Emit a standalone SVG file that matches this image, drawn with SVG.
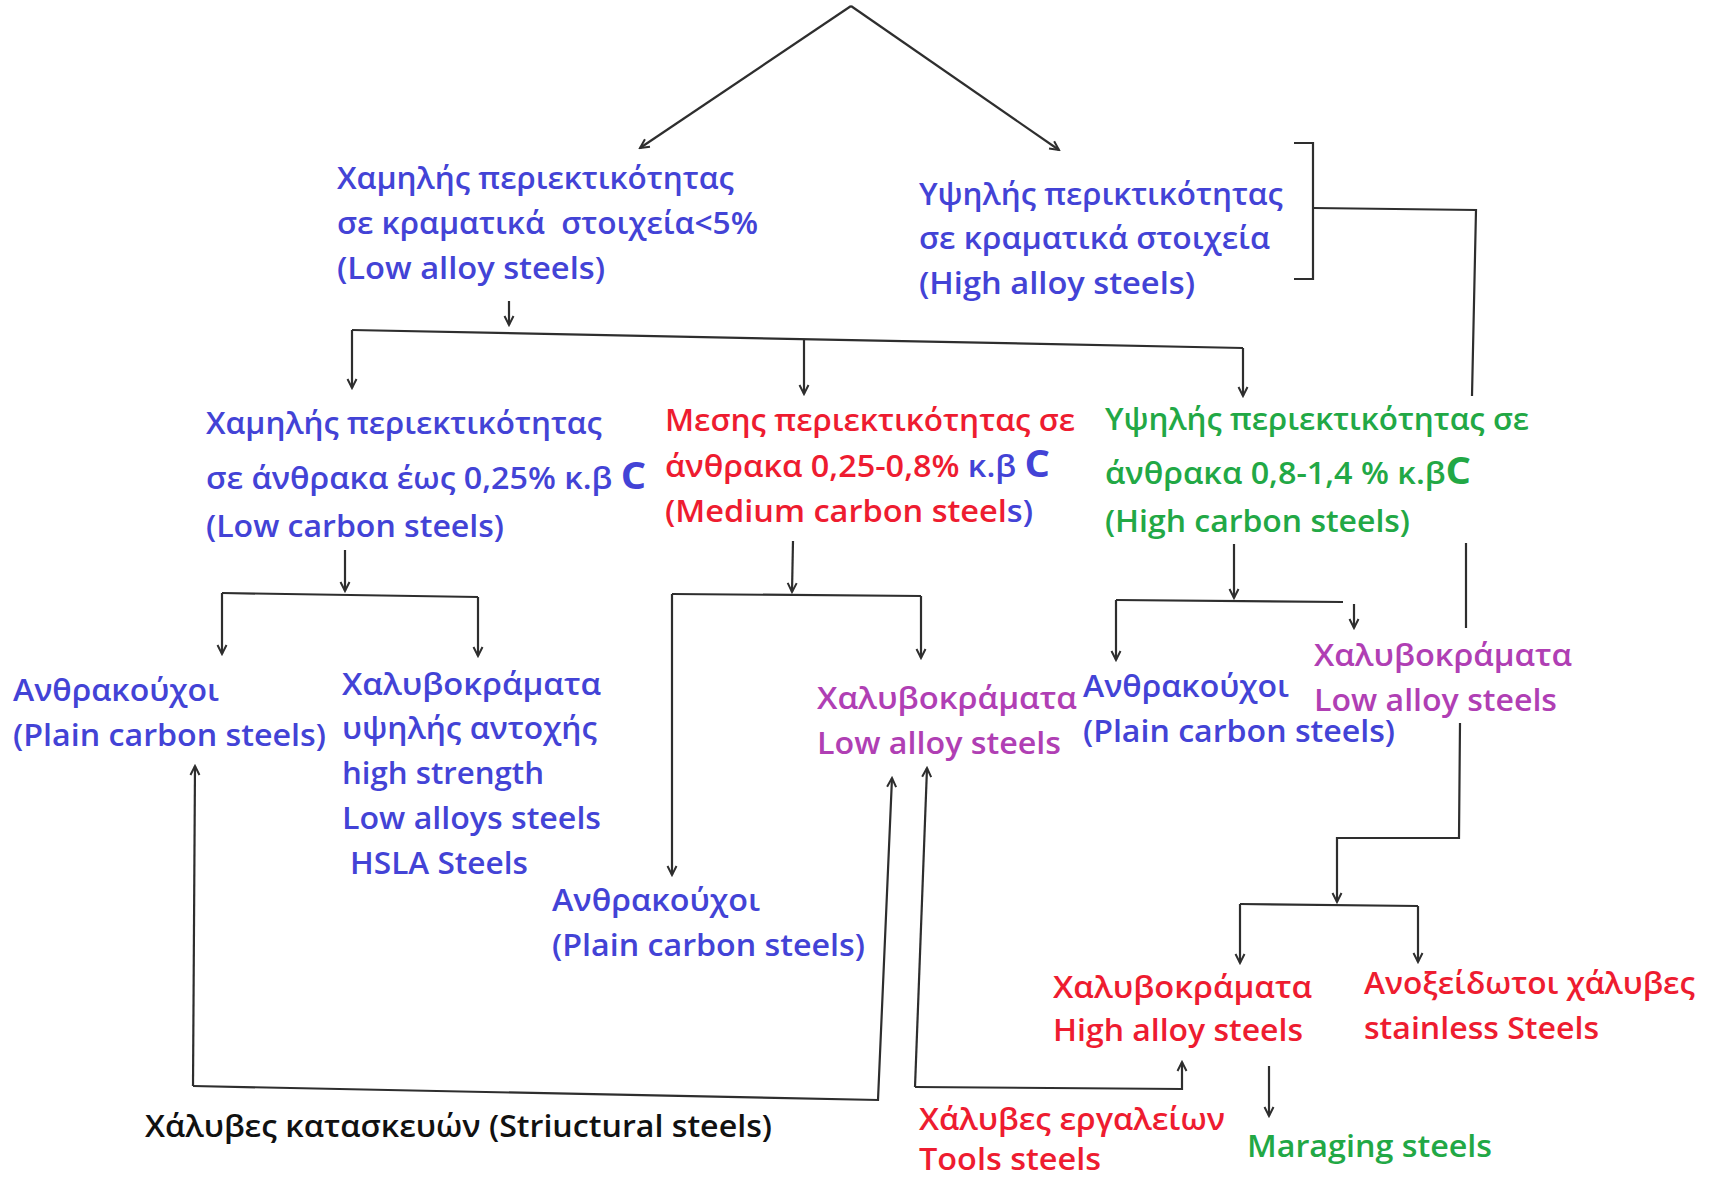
<svg xmlns="http://www.w3.org/2000/svg" width="1715" height="1178" viewBox="0 0 1715 1178">
<style>
.t{font-family:"Open Sans","Noto Sans","DejaVu Sans",sans-serif;font-size:30px;font-weight:600}
.b{fill:#4343d6}
.r{fill:#ee1c30}
.g{fill:#22a845}
.m{fill:#b03fb4}
.k{fill:#111}
.bigC{font-size:37px;font-weight:700}
.ln{fill:none;stroke:#2e2e2e;stroke-width:2.2;stroke-linejoin:miter}
.ar{marker-end:url(#ah)}
</style>
<defs>
<marker id="ah" viewBox="-11 -6 13 12" refX="0" refY="0" markerWidth="13" markerHeight="12" markerUnits="userSpaceOnUse" orient="auto">
<path d="M-9,-4.5 L0,0 L-9,4.5" fill="none" stroke="#2e2e2e" stroke-width="2"/>
</marker>
</defs>
<rect width="1715" height="1178" fill="#fff"/>

<g id="connectors">
<path class="ln ar" d="M851,6 L640,148"/>
<path class="ln ar" d="M851,6 L1059,150"/>
<path class="ln" d="M1294,143 L1313,143 L1313,279 L1294,279"/>
<path class="ln" d="M1313,208 L1476,210 L1472,396"/>
<path class="ln" d="M1466,543 L1466,628"/>
<path class="ln ar" d="M1460,723 L1459,838 L1337,838 L1337,902"/>
<path class="ln" d="M1240,904 L1418,906"/>
<path class="ln ar" d="M1240,904 L1240,963"/>
<path class="ln ar" d="M1418,906 L1418,962"/>
<path class="ln ar" d="M1269,1066 L1269,1116"/>
<path class="ln ar" d="M915,1087 L927,768"/>
<path class="ln ar" d="M915,1087 L1182,1089 L1182,1062"/>
<path class="ln ar" d="M193,1086 L195,766"/>
<path class="ln ar" d="M193,1086 L878,1100 L892,778"/>
<path class="ln ar" d="M509,301 L509,325"/>
<path class="ln" d="M352,330 L1243,348"/>
<path class="ln ar" d="M352,330 L352,388"/>
<path class="ln ar" d="M804,340 L804,394"/>
<path class="ln ar" d="M1243,348 L1243,396"/>
<path class="ln ar" d="M345,550 L345,591"/>
<path class="ln" d="M222,593 L478,597"/>
<path class="ln ar" d="M222,593 L222,654"/>
<path class="ln ar" d="M478,597 L478,656"/>
<path class="ln ar" d="M793,541 L792,592"/>
<path class="ln" d="M672,594 L921,596"/>
<path class="ln ar" d="M672,594 L672,875"/>
<path class="ln ar" d="M921,596 L921,658"/>
<path class="ln ar" d="M1234,544 L1234,598"/>
<path class="ln" d="M1116,600 L1343,602"/>
<path class="ln ar" d="M1116,600 L1116,660"/>
<path class="ln ar" d="M1354,604 L1354,628"/>
</g>

<g id="low-alloy" class="t b">
<text x="337" y="189" textLength="397" lengthAdjust="spacingAndGlyphs">Χαμηλής περιεκτικότητας</text>
<text x="337" y="234" textLength="421" lengthAdjust="spacingAndGlyphs" xml:space="preserve">σε κραματικά  στοιχεία&lt;5%</text>
<text x="337" y="279" textLength="268" lengthAdjust="spacingAndGlyphs">(Low alloy steels)</text>
</g>

<g id="high-alloy" class="t b">
<text x="919" y="205" textLength="364" lengthAdjust="spacingAndGlyphs">Υψηλής περικτικότητας</text>
<text x="919" y="249" textLength="351" lengthAdjust="spacingAndGlyphs">σε κραματικά στοιχεία</text>
<text x="919" y="294" textLength="276" lengthAdjust="spacingAndGlyphs">(High alloy steels)</text>
</g>

<g id="low-carbon" class="t b">
<text x="206" y="434" textLength="396" lengthAdjust="spacingAndGlyphs">Χαμηλής περιεκτικότητας</text>
<text x="206" y="489" textLength="440" lengthAdjust="spacingAndGlyphs">σε άνθρακα έως 0,25% κ.β <tspan class="bigC">C</tspan></text>
<text x="206" y="537" textLength="298" lengthAdjust="spacingAndGlyphs">(Low carbon steels)</text>
</g>

<g id="medium-carbon" class="t r">
<text x="665" y="431" textLength="410" lengthAdjust="spacingAndGlyphs">Μεσης περιεκτικότητας σε</text>
<text x="665" y="477" textLength="385" lengthAdjust="spacingAndGlyphs">άνθρακα 0,25-0,8% <tspan class="b">κ.β </tspan><tspan class="b bigC">C</tspan></text>
<text x="665" y="522" textLength="368" lengthAdjust="spacingAndGlyphs">(Medium carbon steel<tspan class="b">s)</tspan></text>
</g>

<g id="high-carbon" class="t g">
<text x="1105" y="430" textLength="424" lengthAdjust="spacingAndGlyphs">Υψηλής περιεκτικότητας σε</text>
<text x="1105" y="484" textLength="366" lengthAdjust="spacingAndGlyphs">άνθρακα 0,8-1,4 % κ.β<tspan class="bigC">C</tspan></text>
<text x="1105" y="532" textLength="305" lengthAdjust="spacingAndGlyphs">(High carbon steels)</text>
</g>

<g id="plain-carbon-low" class="t b">
<text x="13" y="701" textLength="206" lengthAdjust="spacingAndGlyphs">Ανθρακούχοι</text>
<text x="13" y="746" textLength="313" lengthAdjust="spacingAndGlyphs">(Plain carbon steels)</text>
</g>

<g id="hsla" class="t b">
<text x="342" y="695" textLength="259" lengthAdjust="spacingAndGlyphs">Χαλυβοκράματα</text>
<text x="342" y="739" textLength="255" lengthAdjust="spacingAndGlyphs">υψηλής αντοχής</text>
<text x="342" y="784" textLength="202" lengthAdjust="spacingAndGlyphs">high strength</text>
<text x="342" y="829" textLength="259" lengthAdjust="spacingAndGlyphs">Low alloys steels</text>
<text x="350" y="874" textLength="178" lengthAdjust="spacingAndGlyphs">HSLA Steels</text>
</g>

<g id="plain-carbon-medium" class="t b">
<text x="552" y="911" textLength="208" lengthAdjust="spacingAndGlyphs">Ανθρακούχοι</text>
<text x="552" y="956" textLength="313" lengthAdjust="spacingAndGlyphs">(Plain carbon steels)</text>
</g>

<g id="low-alloy-medium" class="t m">
<text x="817" y="709" textLength="260" lengthAdjust="spacingAndGlyphs">Χαλυβοκράματα</text>
<text x="817" y="754" textLength="244" lengthAdjust="spacingAndGlyphs">Low alloy steels</text>
</g>

<g id="plain-carbon-high" class="t b">
<text x="1083" y="697" textLength="206" lengthAdjust="spacingAndGlyphs">Ανθρακούχοι</text>
<text x="1083" y="742" textLength="312" lengthAdjust="spacingAndGlyphs">(Plain carbon steels)</text>
</g>

<g id="low-alloy-high" class="t m">
<text x="1314" y="666" textLength="258" lengthAdjust="spacingAndGlyphs">Χαλυβοκράματα</text>
<text x="1314" y="711" textLength="243" lengthAdjust="spacingAndGlyphs">Low alloy steels</text>
</g>

<g id="high-alloy-steels" class="t r">
<text x="1053" y="998" textLength="259" lengthAdjust="spacingAndGlyphs">Χαλυβοκράματα</text>
<text x="1053" y="1041" textLength="250" lengthAdjust="spacingAndGlyphs">High alloy steels</text>
</g>

<g id="stainless" class="t r">
<text x="1364" y="994" textLength="331" lengthAdjust="spacingAndGlyphs">Ανοξείδωτοι χάλυβες</text>
<text x="1364" y="1039" textLength="235" lengthAdjust="spacingAndGlyphs">stainless Steels</text>
</g>

<g id="structural" class="t k">
<text x="145" y="1137" textLength="627" lengthAdjust="spacingAndGlyphs">Χάλυβες κατασκευών (Striuctural steels)</text>
</g>

<g id="tools" class="t r">
<text x="919" y="1130" textLength="306" lengthAdjust="spacingAndGlyphs">Χάλυβες εργαλείων</text>
<text x="919" y="1170" textLength="182" lengthAdjust="spacingAndGlyphs">Tools steels</text>
</g>

<g id="maraging" class="t g">
<text x="1247" y="1157" textLength="245" lengthAdjust="spacingAndGlyphs">Maraging steels</text>
</g>
</svg>
